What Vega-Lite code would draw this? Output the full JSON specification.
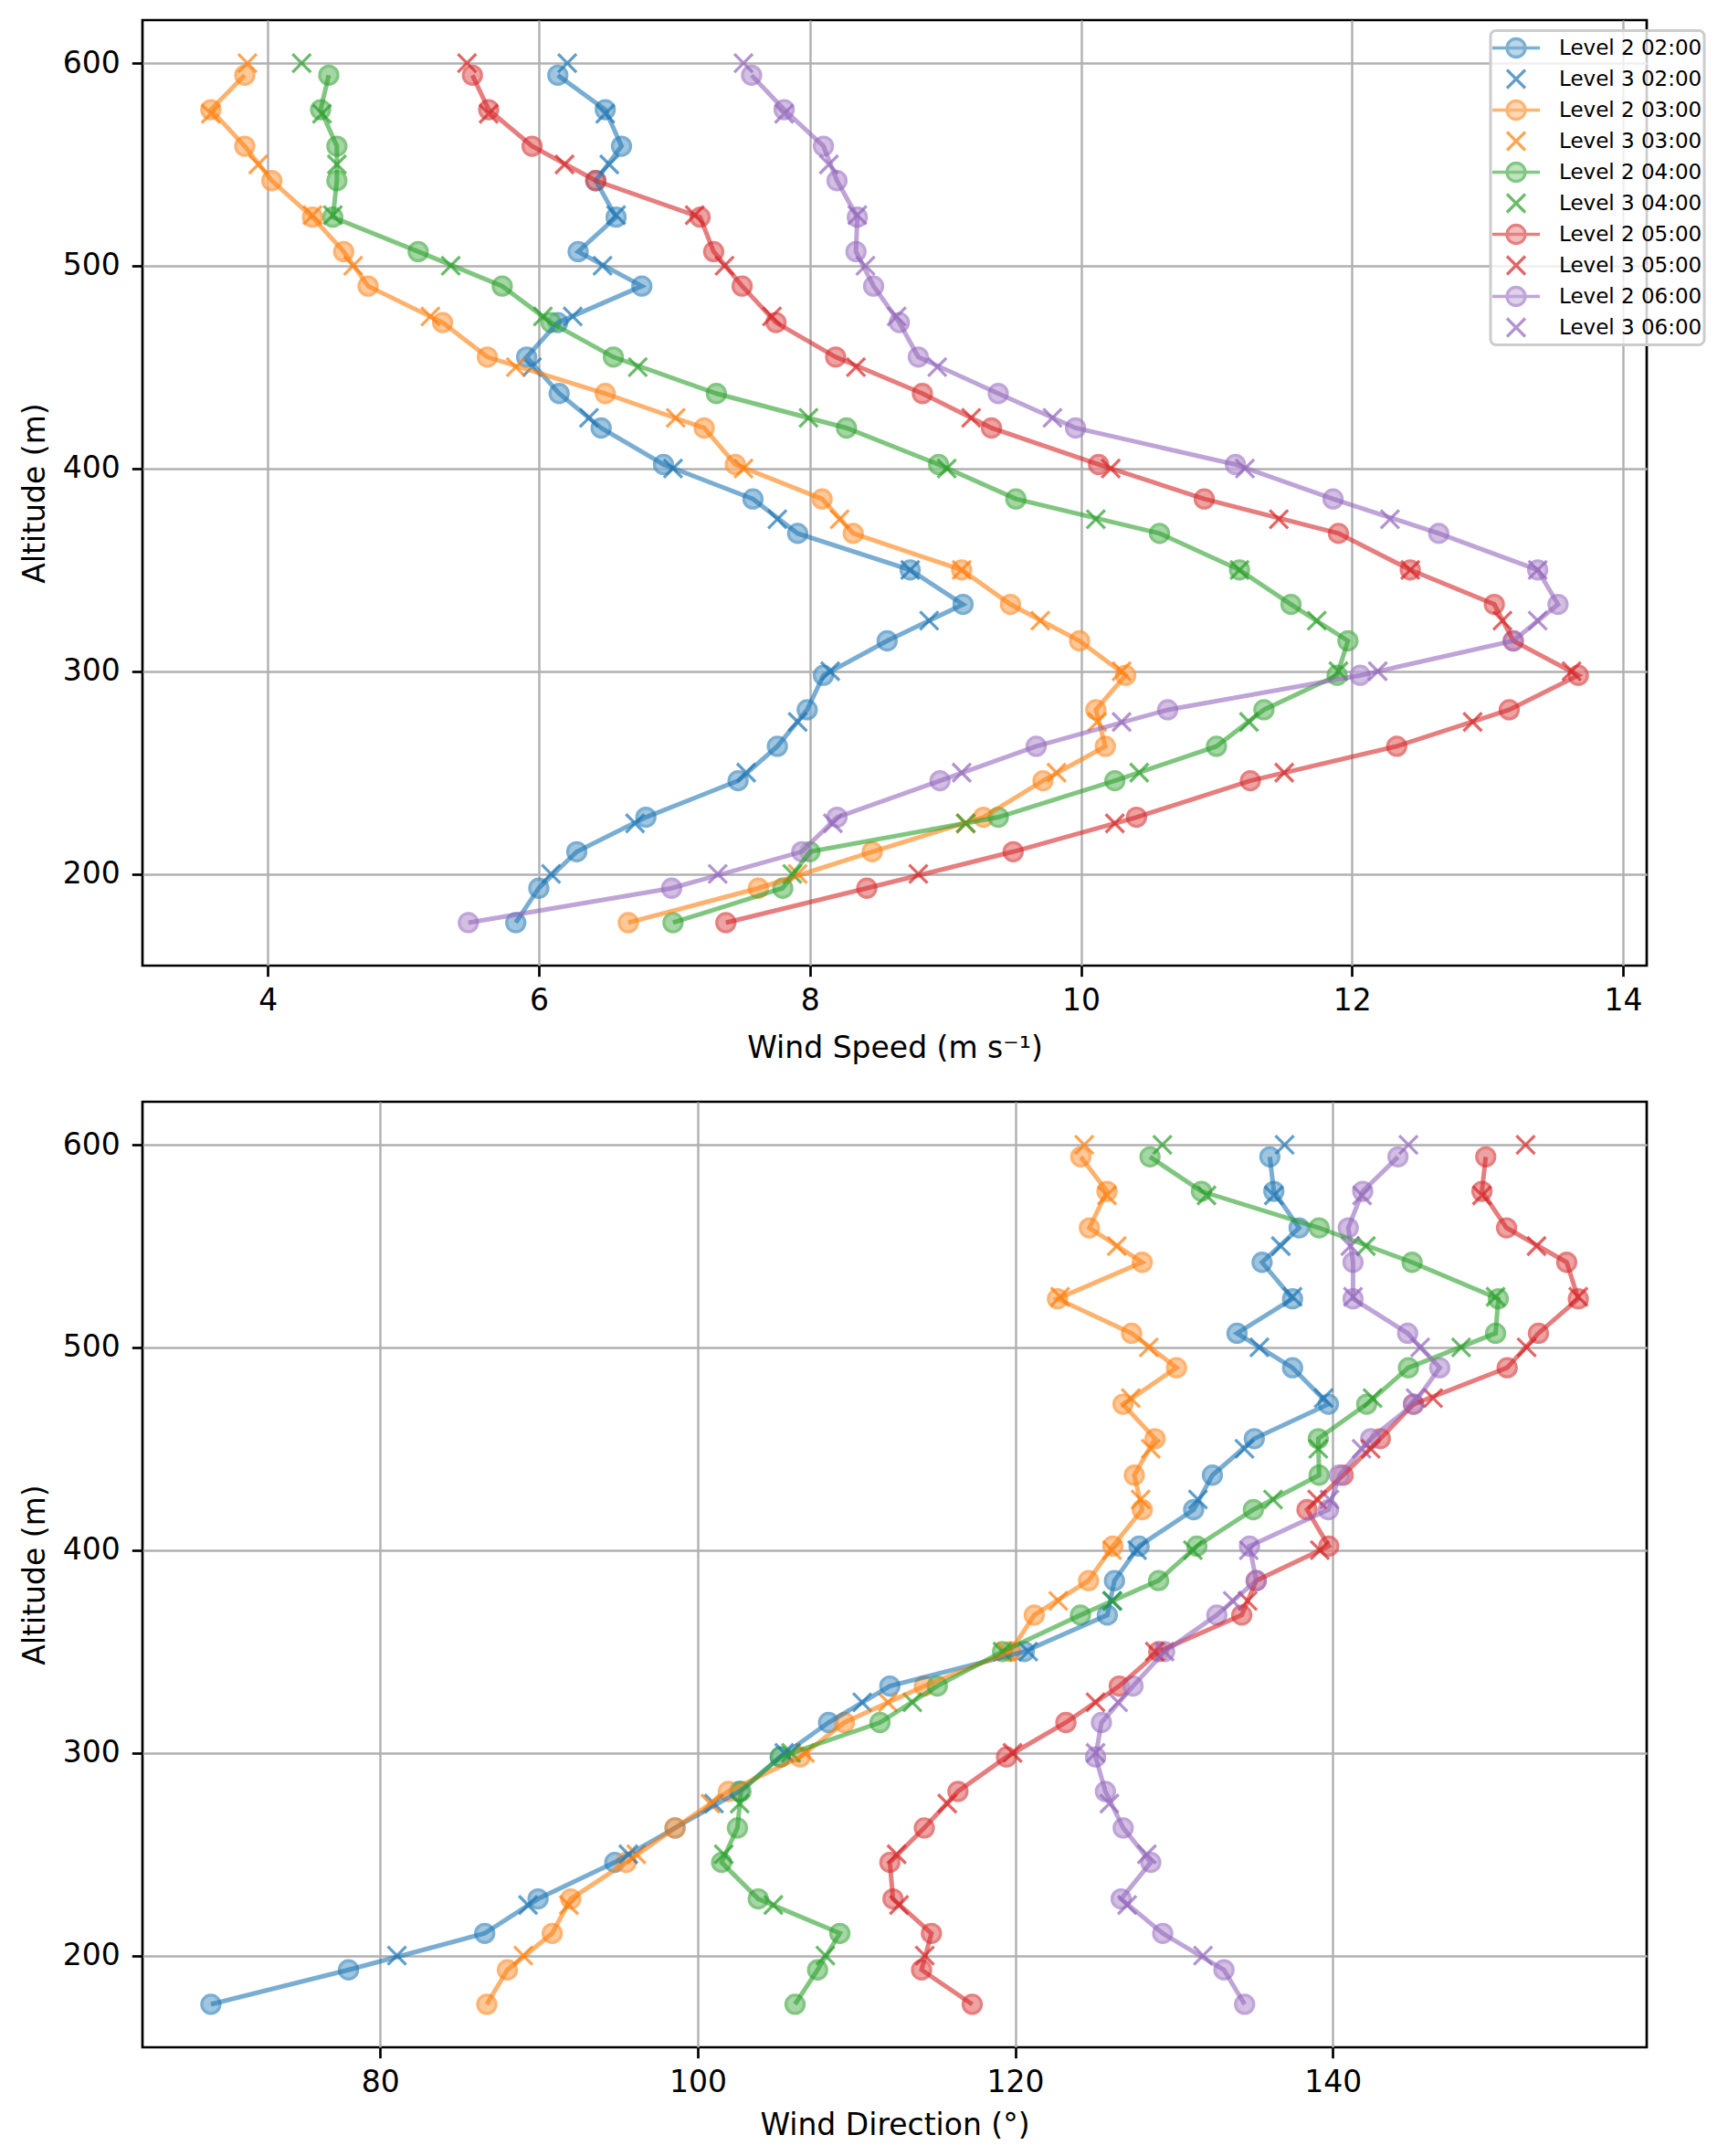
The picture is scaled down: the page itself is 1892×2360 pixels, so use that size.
{
  "$schema": "https://vega.github.io/schema/vega-lite/v6.json",
  "padding": {"left": 20, "top": 20, "right": 0, "bottom": 0},
  "bounds": "flush",
  "spacing": 149,
  "config": {
    "font": "DejaVu Sans",
    "view": {"stroke": "black", "strokeWidth": 2.7},
    "axis": {
      "domain": false, "grid": true, "gridColor": "#b0b0b0", "gridWidth": 2.4, "gridOpacity": 1,
      "tickColor": "black", "tickWidth": 2.7, "tickSize": 11.7,
      "labelFontSize": 33, "labelColor": "black", "labelFlush": false, "labelOverlap": false,
      "titleFontSize": 33, "titleFontWeight": "normal", "titleColor": "black"
    },
    "axisX": {"labelPadding": 10.5, "titlePadding": 14},
    "axisY": {"labelPadding": 13, "titlePadding": 13},
    "legend": {"strokeWidth": 3}
  },
  "data": {"values": [
    {"s":"Level 2 02:00","h":"02:00","l":2,"a":176,"v":5.83,"d":69.33},
    {"s":"Level 2 02:00","h":"02:00","l":2,"a":193,"v":6.00,"d":78.0},
    {"s":"Level 2 02:00","h":"02:00","l":2,"a":211,"v":6.28,"d":86.58},
    {"s":"Level 2 02:00","h":"02:00","l":2,"a":228,"v":6.79,"d":89.94},
    {"s":"Level 2 02:00","h":"02:00","l":2,"a":246,"v":7.47,"d":94.77},
    {"s":"Level 2 02:00","h":"02:00","l":2,"a":263,"v":7.76,"d":98.57},
    {"s":"Level 2 02:00","h":"02:00","l":2,"a":281,"v":7.98,"d":102.6},
    {"s":"Level 2 02:00","h":"02:00","l":2,"a":298,"v":8.10,"d":105.2},
    {"s":"Level 2 02:00","h":"02:00","l":2,"a":315,"v":8.57,"d":108.24},
    {"s":"Level 2 02:00","h":"02:00","l":2,"a":333,"v":9.13,"d":112.1},
    {"s":"Level 2 02:00","h":"02:00","l":2,"a":350,"v":8.74,"d":120.57},
    {"s":"Level 2 02:00","h":"02:00","l":2,"a":368,"v":7.91,"d":125.8},
    {"s":"Level 2 02:00","h":"02:00","l":2,"a":385,"v":7.58,"d":126.25},
    {"s":"Level 2 02:00","h":"02:00","l":2,"a":402,"v":6.92,"d":127.8},
    {"s":"Level 2 02:00","h":"02:00","l":2,"a":420,"v":6.46,"d":131.24},
    {"s":"Level 2 02:00","h":"02:00","l":2,"a":437,"v":6.15,"d":132.42},
    {"s":"Level 2 02:00","h":"02:00","l":2,"a":455,"v":5.91,"d":135.06},
    {"s":"Level 2 02:00","h":"02:00","l":2,"a":472,"v":6.14,"d":139.73},
    {"s":"Level 2 02:00","h":"02:00","l":2,"a":490,"v":6.76,"d":137.47},
    {"s":"Level 2 02:00","h":"02:00","l":2,"a":507,"v":6.29,"d":133.97},
    {"s":"Level 2 02:00","h":"02:00","l":2,"a":524,"v":6.57,"d":137.47},
    {"s":"Level 2 02:00","h":"02:00","l":2,"a":542,"v":6.42,"d":135.55},
    {"s":"Level 2 02:00","h":"02:00","l":2,"a":559,"v":6.61,"d":137.88},
    {"s":"Level 2 02:00","h":"02:00","l":2,"a":577,"v":6.49,"d":136.29},
    {"s":"Level 2 02:00","h":"02:00","l":2,"a":594,"v":6.14,"d":136.04},
    {"s":"Level 3 02:00","h":"02:00","l":3,"a":200,"v":6.09,"d":81.05},
    {"s":"Level 3 02:00","h":"02:00","l":3,"a":225,"v":6.71,"d":89.31},
    {"s":"Level 3 02:00","h":"02:00","l":3,"a":250,"v":7.53,"d":95.63},
    {"s":"Level 3 02:00","h":"02:00","l":3,"a":275,"v":7.91,"d":101.02},
    {"s":"Level 3 02:00","h":"02:00","l":3,"a":300,"v":8.15,"d":105.45},
    {"s":"Level 3 02:00","h":"02:00","l":3,"a":325,"v":8.88,"d":110.36},
    {"s":"Level 3 02:00","h":"02:00","l":3,"a":350,"v":8.74,"d":120.82},
    {"s":"Level 3 02:00","h":"02:00","l":3,"a":375,"v":7.76,"d":126.1},
    {"s":"Level 3 02:00","h":"02:00","l":3,"a":400,"v":6.99,"d":127.68},
    {"s":"Level 3 02:00","h":"02:00","l":3,"a":425,"v":6.37,"d":131.51},
    {"s":"Level 3 02:00","h":"02:00","l":3,"a":450,"v":5.95,"d":134.44},
    {"s":"Level 3 02:00","h":"02:00","l":3,"a":475,"v":6.25,"d":139.43},
    {"s":"Level 3 02:00","h":"02:00","l":3,"a":500,"v":6.47,"d":135.38},
    {"s":"Level 3 02:00","h":"02:00","l":3,"a":525,"v":6.57,"d":137.47},
    {"s":"Level 3 02:00","h":"02:00","l":3,"a":550,"v":6.52,"d":136.73},
    {"s":"Level 3 02:00","h":"02:00","l":3,"a":575,"v":6.49,"d":136.29},
    {"s":"Level 3 02:00","h":"02:00","l":3,"a":600,"v":6.21,"d":136.97},
    {"s":"Level 2 03:00","h":"03:00","l":2,"a":176,"v":6.66,"d":86.71},
    {"s":"Level 2 03:00","h":"03:00","l":2,"a":193,"v":7.62,"d":88.01},
    {"s":"Level 2 03:00","h":"03:00","l":2,"a":211,"v":8.46,"d":90.83},
    {"s":"Level 2 03:00","h":"03:00","l":2,"a":228,"v":9.28,"d":92.0},
    {"s":"Level 2 03:00","h":"03:00","l":2,"a":246,"v":9.72,"d":95.49},
    {"s":"Level 2 03:00","h":"03:00","l":2,"a":263,"v":10.18,"d":98.57},
    {"s":"Level 2 03:00","h":"03:00","l":2,"a":281,"v":10.11,"d":101.93},
    {"s":"Level 2 03:00","h":"03:00","l":2,"a":298,"v":10.33,"d":106.45},
    {"s":"Level 2 03:00","h":"03:00","l":2,"a":315,"v":9.99,"d":109.24},
    {"s":"Level 2 03:00","h":"03:00","l":2,"a":333,"v":9.48,"d":114.27},
    {"s":"Level 2 03:00","h":"03:00","l":2,"a":350,"v":9.12,"d":119.7},
    {"s":"Level 2 03:00","h":"03:00","l":2,"a":368,"v":8.32,"d":121.2},
    {"s":"Level 2 03:00","h":"03:00","l":2,"a":385,"v":8.09,"d":124.62},
    {"s":"Level 2 03:00","h":"03:00","l":2,"a":402,"v":7.45,"d":126.15},
    {"s":"Level 2 03:00","h":"03:00","l":2,"a":420,"v":7.22,"d":128.0},
    {"s":"Level 2 03:00","h":"03:00","l":2,"a":437,"v":6.49,"d":127.5},
    {"s":"Level 2 03:00","h":"03:00","l":2,"a":455,"v":5.62,"d":128.81},
    {"s":"Level 2 03:00","h":"03:00","l":2,"a":472,"v":5.29,"d":126.79},
    {"s":"Level 2 03:00","h":"03:00","l":2,"a":490,"v":4.74,"d":130.16},
    {"s":"Level 2 03:00","h":"03:00","l":2,"a":507,"v":4.56,"d":127.33},
    {"s":"Level 2 03:00","h":"03:00","l":2,"a":524,"v":4.33,"d":122.66},
    {"s":"Level 2 03:00","h":"03:00","l":2,"a":542,"v":4.03,"d":128.0},
    {"s":"Level 2 03:00","h":"03:00","l":2,"a":559,"v":3.83,"d":124.67},
    {"s":"Level 2 03:00","h":"03:00","l":2,"a":577,"v":3.58,"d":125.78},
    {"s":"Level 2 03:00","h":"03:00","l":2,"a":594,"v":3.83,"d":124.13},
    {"s":"Level 3 03:00","h":"03:00","l":3,"a":200,"v":7.91,"d":89.01},
    {"s":"Level 3 03:00","h":"03:00","l":3,"a":225,"v":9.15,"d":91.88},
    {"s":"Level 3 03:00","h":"03:00","l":3,"a":250,"v":9.82,"d":96.13},
    {"s":"Level 3 03:00","h":"03:00","l":3,"a":275,"v":10.12,"d":100.8},
    {"s":"Level 3 03:00","h":"03:00","l":3,"a":300,"v":10.30,"d":106.75},
    {"s":"Level 3 03:00","h":"03:00","l":3,"a":325,"v":9.70,"d":111.98},
    {"s":"Level 3 03:00","h":"03:00","l":3,"a":350,"v":9.12,"d":119.45},
    {"s":"Level 3 03:00","h":"03:00","l":3,"a":375,"v":8.22,"d":122.71},
    {"s":"Level 3 03:00","h":"03:00","l":3,"a":400,"v":7.51,"d":126.1},
    {"s":"Level 3 03:00","h":"03:00","l":3,"a":425,"v":7.01,"d":127.9},
    {"s":"Level 3 03:00","h":"03:00","l":3,"a":450,"v":5.83,"d":128.54},
    {"s":"Level 3 03:00","h":"03:00","l":3,"a":475,"v":5.20,"d":127.28},
    {"s":"Level 3 03:00","h":"03:00","l":3,"a":500,"v":4.63,"d":128.41},
    {"s":"Level 3 03:00","h":"03:00","l":3,"a":525,"v":4.33,"d":122.83},
    {"s":"Level 3 03:00","h":"03:00","l":3,"a":550,"v":3.93,"d":126.4},
    {"s":"Level 3 03:00","h":"03:00","l":3,"a":575,"v":3.58,"d":125.78},
    {"s":"Level 3 03:00","h":"03:00","l":3,"a":600,"v":3.85,"d":124.35},
    {"s":"Level 2 04:00","h":"04:00","l":2,"a":176,"v":6.99,"d":106.13},
    {"s":"Level 2 04:00","h":"04:00","l":2,"a":193,"v":7.80,"d":107.55},
    {"s":"Level 2 04:00","h":"04:00","l":2,"a":211,"v":8.00,"d":108.95},
    {"s":"Level 2 04:00","h":"04:00","l":2,"a":228,"v":9.39,"d":103.81},
    {"s":"Level 2 04:00","h":"04:00","l":2,"a":246,"v":10.25,"d":101.5},
    {"s":"Level 2 04:00","h":"04:00","l":2,"a":263,"v":11.00,"d":102.5},
    {"s":"Level 2 04:00","h":"04:00","l":2,"a":281,"v":11.35,"d":102.72},
    {"s":"Level 2 04:00","h":"04:00","l":2,"a":298,"v":11.89,"d":105.2},
    {"s":"Level 2 04:00","h":"04:00","l":2,"a":315,"v":11.97,"d":111.48},
    {"s":"Level 2 04:00","h":"04:00","l":2,"a":333,"v":11.55,"d":115.09},
    {"s":"Level 2 04:00","h":"04:00","l":2,"a":350,"v":11.17,"d":119.2},
    {"s":"Level 2 04:00","h":"04:00","l":2,"a":368,"v":10.58,"d":124.11},
    {"s":"Level 2 04:00","h":"04:00","l":2,"a":385,"v":9.52,"d":129.03},
    {"s":"Level 2 04:00","h":"04:00","l":2,"a":402,"v":8.95,"d":131.44},
    {"s":"Level 2 04:00","h":"04:00","l":2,"a":420,"v":8.27,"d":135.0},
    {"s":"Level 2 04:00","h":"04:00","l":2,"a":437,"v":7.31,"d":139.14},
    {"s":"Level 2 04:00","h":"04:00","l":2,"a":455,"v":6.55,"d":139.09},
    {"s":"Level 2 04:00","h":"04:00","l":2,"a":472,"v":6.09,"d":142.14},
    {"s":"Level 2 04:00","h":"04:00","l":2,"a":490,"v":5.73,"d":144.77},
    {"s":"Level 2 04:00","h":"04:00","l":2,"a":507,"v":5.11,"d":150.26},
    {"s":"Level 2 04:00","h":"04:00","l":2,"a":524,"v":4.48,"d":150.43},
    {"s":"Level 2 04:00","h":"04:00","l":2,"a":542,"v":4.51,"d":145.0},
    {"s":"Level 2 04:00","h":"04:00","l":2,"a":559,"v":4.51,"d":139.14},
    {"s":"Level 2 04:00","h":"04:00","l":2,"a":577,"v":4.39,"d":131.73},
    {"s":"Level 2 04:00","h":"04:00","l":2,"a":594,"v":4.45,"d":128.49},
    {"s":"Level 3 04:00","h":"04:00","l":3,"a":200,"v":7.87,"d":108.04},
    {"s":"Level 3 04:00","h":"04:00","l":3,"a":225,"v":9.15,"d":104.76},
    {"s":"Level 3 04:00","h":"04:00","l":3,"a":250,"v":10.43,"d":101.64},
    {"s":"Level 3 04:00","h":"04:00","l":3,"a":275,"v":11.24,"d":102.64},
    {"s":"Level 3 04:00","h":"04:00","l":3,"a":300,"v":11.90,"d":105.88},
    {"s":"Level 3 04:00","h":"04:00","l":3,"a":325,"v":11.74,"d":113.52},
    {"s":"Level 3 04:00","h":"04:00","l":3,"a":350,"v":11.17,"d":119.2},
    {"s":"Level 3 04:00","h":"04:00","l":3,"a":375,"v":10.11,"d":126.13},
    {"s":"Level 3 04:00","h":"04:00","l":3,"a":400,"v":9.01,"d":131.19},
    {"s":"Level 3 04:00","h":"04:00","l":3,"a":425,"v":7.99,"d":136.24},
    {"s":"Level 3 04:00","h":"04:00","l":3,"a":450,"v":6.73,"d":139.09},
    {"s":"Level 3 04:00","h":"04:00","l":3,"a":475,"v":6.03,"d":142.51},
    {"s":"Level 3 04:00","h":"04:00","l":3,"a":500,"v":5.35,"d":148.09},
    {"s":"Level 3 04:00","h":"04:00","l":3,"a":525,"v":4.48,"d":150.26},
    {"s":"Level 3 04:00","h":"04:00","l":3,"a":550,"v":4.51,"d":142.09},
    {"s":"Level 3 04:00","h":"04:00","l":3,"a":575,"v":4.40,"d":132.05},
    {"s":"Level 3 04:00","h":"04:00","l":3,"a":600,"v":4.25,"d":129.27},
    {"s":"Level 2 05:00","h":"05:00","l":2,"a":176,"v":7.38,"d":117.29},
    {"s":"Level 2 05:00","h":"05:00","l":2,"a":193,"v":8.42,"d":114.1},
    {"s":"Level 2 05:00","h":"05:00","l":2,"a":211,"v":9.50,"d":114.72},
    {"s":"Level 2 05:00","h":"05:00","l":2,"a":228,"v":10.41,"d":112.3},
    {"s":"Level 2 05:00","h":"05:00","l":2,"a":246,"v":11.25,"d":112.1},
    {"s":"Level 2 05:00","h":"05:00","l":2,"a":263,"v":12.33,"d":114.27},
    {"s":"Level 2 05:00","h":"05:00","l":2,"a":281,"v":13.16,"d":116.39},
    {"s":"Level 2 05:00","h":"05:00","l":2,"a":298,"v":13.67,"d":119.45},
    {"s":"Level 2 05:00","h":"05:00","l":2,"a":315,"v":13.19,"d":123.19},
    {"s":"Level 2 05:00","h":"05:00","l":2,"a":333,"v":13.05,"d":126.55},
    {"s":"Level 2 05:00","h":"05:00","l":2,"a":350,"v":12.43,"d":129.04},
    {"s":"Level 2 05:00","h":"05:00","l":2,"a":368,"v":11.90,"d":134.27},
    {"s":"Level 2 05:00","h":"05:00","l":2,"a":385,"v":10.91,"d":135.18},
    {"s":"Level 2 05:00","h":"05:00","l":2,"a":402,"v":10.13,"d":139.75},
    {"s":"Level 2 05:00","h":"05:00","l":2,"a":420,"v":9.34,"d":138.38},
    {"s":"Level 2 05:00","h":"05:00","l":2,"a":437,"v":8.83,"d":140.66},
    {"s":"Level 2 05:00","h":"05:00","l":2,"a":455,"v":8.19,"d":143.0},
    {"s":"Level 2 05:00","h":"05:00","l":2,"a":472,"v":7.75,"d":145.09},
    {"s":"Level 2 05:00","h":"05:00","l":2,"a":490,"v":7.50,"d":150.99},
    {"s":"Level 2 05:00","h":"05:00","l":2,"a":507,"v":7.29,"d":152.96},
    {"s":"Level 2 05:00","h":"05:00","l":2,"a":524,"v":7.19,"d":155.47},
    {"s":"Level 2 05:00","h":"05:00","l":2,"a":542,"v":6.42,"d":154.74},
    {"s":"Level 2 05:00","h":"05:00","l":2,"a":559,"v":5.95,"d":150.95},
    {"s":"Level 2 05:00","h":"05:00","l":2,"a":577,"v":5.63,"d":149.4},
    {"s":"Level 2 05:00","h":"05:00","l":2,"a":594,"v":5.51,"d":149.64},
    {"s":"Level 3 05:00","h":"05:00","l":3,"a":200,"v":8.80,"d":114.3},
    {"s":"Level 3 05:00","h":"05:00","l":3,"a":225,"v":10.25,"d":112.68},
    {"s":"Level 3 05:00","h":"05:00","l":3,"a":250,"v":11.50,"d":112.53},
    {"s":"Level 3 05:00","h":"05:00","l":3,"a":275,"v":12.89,"d":115.72},
    {"s":"Level 3 05:00","h":"05:00","l":3,"a":300,"v":13.62,"d":119.83},
    {"s":"Level 3 05:00","h":"05:00","l":3,"a":325,"v":13.11,"d":125.06},
    {"s":"Level 3 05:00","h":"05:00","l":3,"a":350,"v":12.43,"d":128.79},
    {"s":"Level 3 05:00","h":"05:00","l":3,"a":375,"v":11.46,"d":134.64},
    {"s":"Level 3 05:00","h":"05:00","l":3,"a":400,"v":10.22,"d":139.19},
    {"s":"Level 3 05:00","h":"05:00","l":3,"a":425,"v":9.19,"d":139.02},
    {"s":"Level 3 05:00","h":"05:00","l":3,"a":450,"v":8.34,"d":142.39},
    {"s":"Level 3 05:00","h":"05:00","l":3,"a":475,"v":7.72,"d":146.32},
    {"s":"Level 3 05:00","h":"05:00","l":3,"a":500,"v":7.37,"d":152.22},
    {"s":"Level 3 05:00","h":"05:00","l":3,"a":525,"v":7.15,"d":155.47},
    {"s":"Level 3 05:00","h":"05:00","l":3,"a":550,"v":6.19,"d":152.84},
    {"s":"Level 3 05:00","h":"05:00","l":3,"a":575,"v":5.63,"d":149.4},
    {"s":"Level 3 05:00","h":"05:00","l":3,"a":600,"v":5.47,"d":152.15},
    {"s":"Level 2 06:00","h":"06:00","l":2,"a":176,"v":5.48,"d":134.45},
    {"s":"Level 2 06:00","h":"06:00","l":2,"a":193,"v":6.98,"d":133.15},
    {"s":"Level 2 06:00","h":"06:00","l":2,"a":211,"v":7.94,"d":129.29},
    {"s":"Level 2 06:00","h":"06:00","l":2,"a":228,"v":8.20,"d":126.67},
    {"s":"Level 2 06:00","h":"06:00","l":2,"a":246,"v":8.96,"d":128.54},
    {"s":"Level 2 06:00","h":"06:00","l":2,"a":263,"v":9.67,"d":126.8},
    {"s":"Level 2 06:00","h":"06:00","l":2,"a":281,"v":10.64,"d":125.68},
    {"s":"Level 2 06:00","h":"06:00","l":2,"a":298,"v":12.06,"d":125.06},
    {"s":"Level 2 06:00","h":"06:00","l":2,"a":315,"v":13.19,"d":125.43},
    {"s":"Level 2 06:00","h":"06:00","l":2,"a":333,"v":13.52,"d":127.42},
    {"s":"Level 2 06:00","h":"06:00","l":2,"a":350,"v":13.37,"d":129.41},
    {"s":"Level 2 06:00","h":"06:00","l":2,"a":368,"v":12.64,"d":132.7},
    {"s":"Level 2 06:00","h":"06:00","l":2,"a":385,"v":11.86,"d":135.18},
    {"s":"Level 2 06:00","h":"06:00","l":2,"a":402,"v":11.14,"d":134.76},
    {"s":"Level 2 06:00","h":"06:00","l":2,"a":420,"v":9.96,"d":139.73},
    {"s":"Level 2 06:00","h":"06:00","l":2,"a":437,"v":9.39,"d":140.42},
    {"s":"Level 2 06:00","h":"06:00","l":2,"a":455,"v":8.80,"d":142.39},
    {"s":"Level 2 06:00","h":"06:00","l":2,"a":472,"v":8.66,"d":145.09},
    {"s":"Level 2 06:00","h":"06:00","l":2,"a":490,"v":8.47,"d":146.74},
    {"s":"Level 2 06:00","h":"06:00","l":2,"a":507,"v":8.34,"d":144.72},
    {"s":"Level 2 06:00","h":"06:00","l":2,"a":524,"v":8.35,"d":141.28},
    {"s":"Level 2 06:00","h":"06:00","l":2,"a":542,"v":8.20,"d":141.28},
    {"s":"Level 2 06:00","h":"06:00","l":2,"a":559,"v":8.10,"d":140.98},
    {"s":"Level 2 06:00","h":"06:00","l":2,"a":577,"v":7.81,"d":141.89},
    {"s":"Level 2 06:00","h":"06:00","l":2,"a":594,"v":7.57,"d":144.11},
    {"s":"Level 3 06:00","h":"06:00","l":3,"a":200,"v":7.32,"d":131.83},
    {"s":"Level 3 06:00","h":"06:00","l":3,"a":225,"v":8.17,"d":127.05},
    {"s":"Level 3 06:00","h":"06:00","l":3,"a":250,"v":9.12,"d":128.29},
    {"s":"Level 3 06:00","h":"06:00","l":3,"a":275,"v":10.30,"d":125.93},
    {"s":"Level 3 06:00","h":"06:00","l":3,"a":300,"v":12.19,"d":125.06},
    {"s":"Level 3 06:00","h":"06:00","l":3,"a":325,"v":13.37,"d":126.48},
    {"s":"Level 3 06:00","h":"06:00","l":3,"a":350,"v":13.37,"d":129.41},
    {"s":"Level 3 06:00","h":"06:00","l":3,"a":375,"v":12.28,"d":133.7},
    {"s":"Level 3 06:00","h":"06:00","l":3,"a":400,"v":11.21,"d":134.71},
    {"s":"Level 3 06:00","h":"06:00","l":3,"a":425,"v":9.79,"d":139.8},
    {"s":"Level 3 06:00","h":"06:00","l":3,"a":450,"v":8.94,"d":141.82},
    {"s":"Level 3 06:00","h":"06:00","l":3,"a":475,"v":8.64,"d":145.22},
    {"s":"Level 3 06:00","h":"06:00","l":3,"a":500,"v":8.41,"d":145.51},
    {"s":"Level 3 06:00","h":"06:00","l":3,"a":525,"v":8.35,"d":141.28},
    {"s":"Level 3 06:00","h":"06:00","l":3,"a":550,"v":8.14,"d":141.11},
    {"s":"Level 3 06:00","h":"06:00","l":3,"a":575,"v":7.81,"d":141.85},
    {"s":"Level 3 06:00","h":"06:00","l":3,"a":600,"v":7.51,"d":144.77}
  ]},
  "resolve": {"scale": {"fill": "independent", "stroke": "independent", "shape": "independent", "color": "independent"}},
  "vconcat": [
    {
      "width": 1647,
      "height": 1035,
      "encoding": {
        "x": {"field": "v", "type": "quantitative", "scale": {"domain": [3.0755, 14.1745], "nice": false, "zero": false}, "axis": {"values": [4, 6, 8, 10, 12, 14], "format": "d", "title": "Wind Speed (m s⁻¹)", "titlePadding": 19.6}},
        "y": {"field": "a", "type": "quantitative", "scale": {"domain": [154.8, 621.2], "nice": false, "zero": false}, "axis": {"values": [200, 300, 400, 500, 600], "title": "Altitude (m)"}}
      },
      "layer": [
        {
          "transform": [{"filter": "false"}],
          "mark": {"type": "point", "filled": true, "strokeWidth": 3.3},
          "encoding": {
            "shape": {"field": "s", "type": "nominal",
              "scale": {"domain": ["Level 2 02:00", "Level 3 02:00", "Level 2 03:00", "Level 3 03:00", "Level 2 04:00", "Level 3 04:00", "Level 2 05:00", "Level 3 05:00", "Level 2 06:00", "Level 3 06:00"],
                "range": [
                  "M-1,0L1,0M0.385,0C0.385,0.2126,0.2126,0.385,0,0.385C-0.2126,0.385,-0.385,0.2126,-0.385,0C-0.385,-0.2126,-0.2126,-0.385,0,-0.385C0.2126,-0.385,0.385,-0.2126,0.385,0Z", "M-0.385,-0.385L0.385,0.385M0.385,-0.385L-0.385,0.385",
                  "M-1,0L1,0M0.385,0C0.385,0.2126,0.2126,0.385,0,0.385C-0.2126,0.385,-0.385,0.2126,-0.385,0C-0.385,-0.2126,-0.2126,-0.385,0,-0.385C0.2126,-0.385,0.385,-0.2126,0.385,0Z", "M-0.385,-0.385L0.385,0.385M0.385,-0.385L-0.385,0.385",
                  "M-1,0L1,0M0.385,0C0.385,0.2126,0.2126,0.385,0,0.385C-0.2126,0.385,-0.385,0.2126,-0.385,0C-0.385,-0.2126,-0.2126,-0.385,0,-0.385C0.2126,-0.385,0.385,-0.2126,0.385,0Z", "M-0.385,-0.385L0.385,0.385M0.385,-0.385L-0.385,0.385",
                  "M-1,0L1,0M0.385,0C0.385,0.2126,0.2126,0.385,0,0.385C-0.2126,0.385,-0.385,0.2126,-0.385,0C-0.385,-0.2126,-0.2126,-0.385,0,-0.385C0.2126,-0.385,0.385,-0.2126,0.385,0Z", "M-0.385,-0.385L0.385,0.385M0.385,-0.385L-0.385,0.385",
                  "M-1,0L1,0M0.385,0C0.385,0.2126,0.2126,0.385,0,0.385C-0.2126,0.385,-0.385,0.2126,-0.385,0C-0.385,-0.2126,-0.2126,-0.385,0,-0.385C0.2126,-0.385,0.385,-0.2126,0.385,0Z", "M-0.385,-0.385L0.385,0.385M0.385,-0.385L-0.385,0.385"]},
              "legend": {"title": null, "orient": "none", "legendX": 1476, "legendY": 11.5, "direction": "vertical",
                "fillColor": "rgba(255,255,255,0.8)", "strokeColor": "#cccccc", "cornerRadius": 6, "padding": 2, "rowPadding": 0, "clipHeight": 34,
                "labelFontSize": 23, "labelColor": "black", "symbolSize": 2704, "symbolStrokeWidth": 3.3, "symbolOffset": -2, "labelOffset": 19}},
            "fill": {"field": "s", "type": "nominal",
              "scale": {"domain": ["Level 2 02:00", "Level 3 02:00", "Level 2 03:00", "Level 3 03:00", "Level 2 04:00", "Level 3 04:00", "Level 2 05:00", "Level 3 05:00", "Level 2 06:00", "Level 3 06:00"],
                "range": ["#79add2", "#1f77b4", "#ffb26e", "#ff7f0e", "#80c680", "#2ca02c", "#e67d7e", "#d62728", "#bfa4d7", "#9467bd"]}},
            "stroke": {"field": "s", "type": "nominal",
              "scale": {"domain": ["Level 2 02:00", "Level 3 02:00", "Level 2 03:00", "Level 3 03:00", "Level 2 04:00", "Level 3 04:00", "Level 2 05:00", "Level 3 05:00", "Level 2 06:00", "Level 3 06:00"],
                "range": ["#438dc0", "#1f77b4", "#ff9435", "#ff7f0e", "#4eaf4e", "#2ca02c", "#dd4a4a", "#d62728", "#a57fc8", "#9467bd"]}}
          }
        },
        {
          "transform": [{"filter": "datum.l == 2"}],
          "mark": {"type": "point", "filled": true, "shape": "circle", "size": 400, "strokeWidth": 3.3},
          "encoding": {
            "fill": {"field": "s", "type": "nominal", "legend": null},
            "stroke": {"field": "s", "type": "nominal", "legend": null}
          }
        },
        {
          "transform": [{"filter": "datum.l == 3"}],
          "mark": {"type": "point", "filled": true, "shape": "M-1,-1L1,1M1,-1L-1,1", "size": 400, "strokeWidth": 3.3},
          "encoding": {
            "fill": {"field": "s", "type": "nominal", "legend": null},
            "stroke": {"field": "s", "type": "nominal", "legend": null}
          }
        },
        {
          "transform": [{"filter": "datum.l == 2"}],
          "mark": {"type": "line", "strokeWidth": 5, "opacity": 0.6},
          "encoding": {
            "order": {"field": "a", "type": "quantitative"},
            "color": {"field": "h", "type": "nominal", "legend": null,
              "scale": {"domain": ["02:00", "03:00", "04:00", "05:00", "06:00"], "range": ["#1f77b4", "#ff7f0e", "#2ca02c", "#d62728", "#9467bd"]}}
          }
        }
      ]
    },
    {
      "width": 1647,
      "height": 1035,
      "encoding": {
        "x": {"field": "d", "type": "quantitative", "scale": {"domain": [65.02, 159.78], "nice": false, "zero": false}, "axis": {"values": [80, 100, 120, 140], "title": "Wind Direction (°)"}},
        "y": {"field": "a", "type": "quantitative", "scale": {"domain": [154.8, 621.2], "nice": false, "zero": false}, "axis": {"values": [200, 300, 400, 500, 600], "title": "Altitude (m)"}}
      },
      "layer": [
        {
          "transform": [{"filter": "datum.l == 2"}],
          "mark": {"type": "point", "filled": true, "shape": "circle", "size": 400, "strokeWidth": 3.3},
          "encoding": {
            "fill": {"field": "s", "type": "nominal", "legend": null,
              "scale": {"domain": ["Level 2 02:00", "Level 3 02:00", "Level 2 03:00", "Level 3 03:00", "Level 2 04:00", "Level 3 04:00", "Level 2 05:00", "Level 3 05:00", "Level 2 06:00", "Level 3 06:00"],
                "range": ["#79add2", "#1f77b4", "#ffb26e", "#ff7f0e", "#80c680", "#2ca02c", "#e67d7e", "#d62728", "#bfa4d7", "#9467bd"]}},
            "stroke": {"field": "s", "type": "nominal", "legend": null,
              "scale": {"domain": ["Level 2 02:00", "Level 3 02:00", "Level 2 03:00", "Level 3 03:00", "Level 2 04:00", "Level 3 04:00", "Level 2 05:00", "Level 3 05:00", "Level 2 06:00", "Level 3 06:00"],
                "range": ["#438dc0", "#1f77b4", "#ff9435", "#ff7f0e", "#4eaf4e", "#2ca02c", "#dd4a4a", "#d62728", "#a57fc8", "#9467bd"]}}
          }
        },
        {
          "transform": [{"filter": "datum.l == 3"}],
          "mark": {"type": "point", "filled": true, "shape": "M-1,-1L1,1M1,-1L-1,1", "size": 400, "strokeWidth": 3.3},
          "encoding": {
            "fill": {"field": "s", "type": "nominal", "legend": null},
            "stroke": {"field": "s", "type": "nominal", "legend": null}
          }
        },
        {
          "transform": [{"filter": "datum.l == 2"}],
          "mark": {"type": "line", "strokeWidth": 5, "opacity": 0.6},
          "encoding": {
            "order": {"field": "a", "type": "quantitative"},
            "color": {"field": "h", "type": "nominal", "legend": null,
              "scale": {"domain": ["02:00", "03:00", "04:00", "05:00", "06:00"], "range": ["#1f77b4", "#ff7f0e", "#2ca02c", "#d62728", "#9467bd"]}}
          }
        }
      ]
    }
  ]
}
